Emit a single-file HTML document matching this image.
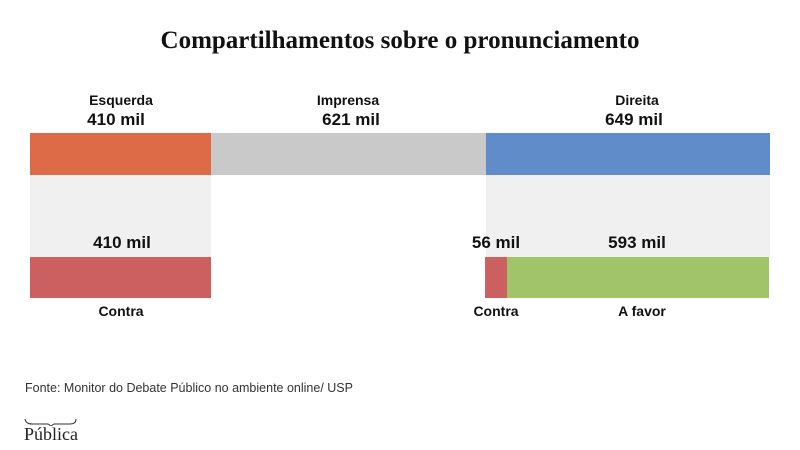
<!DOCTYPE html>
<html><head><meta charset="utf-8"><style>
body{margin:0;width:800px;height:450px;background:#fff;position:relative;overflow:hidden;font-family:"Liberation Sans",sans-serif;color:#111}
.a{position:absolute}
.t{position:absolute;transform:translateX(-50%);white-space:nowrap;font-weight:bold}
.s{font-size:14px}.b{font-size:17px}
</style></head><body>
<div class="t" style="left:400px;top:27px;font-family:'Liberation Serif',serif;font-size:25px">Compartilhamentos sobre o pronunciamento</div>
<div class="a" style="left:30px;top:175px;width:181px;height:82px;background:#f0f0f0"></div>
<div class="a" style="left:486px;top:175px;width:284px;height:82px;background:#f0f0f0"></div>
<div class="a" style="left:30px;top:133px;width:181px;height:42px;background:#dd6b47"></div>
<div class="a" style="left:211px;top:133px;width:275px;height:42px;background:#c9c9c9"></div>
<div class="a" style="left:486px;top:133px;width:284px;height:42px;background:#608dc9"></div>
<div class="a" style="left:30px;top:257px;width:181px;height:41px;background:#cc5f5f"></div>
<div class="a" style="left:485px;top:257px;width:22px;height:41px;background:#cc5f5f"></div>
<div class="a" style="left:507px;top:257px;width:262px;height:41px;background:#a1c46a"></div>
<div class="t s" style="left:121px;top:92px">Esquerda</div>
<div class="t b" style="left:116px;top:110px">410 mil</div>
<div class="t s" style="left:348px;top:92px">Imprensa</div>
<div class="t b" style="left:351px;top:110px">621 mil</div>
<div class="t s" style="left:637px;top:92px">Direita</div>
<div class="t b" style="left:634px;top:110px">649 mil</div>
<div class="t b" style="left:122px;top:233px">410 mil</div>
<div class="t b" style="left:496px;top:233px">56 mil</div>
<div class="t b" style="left:637px;top:233px">593 mil</div>
<div class="t s" style="left:121px;top:303px">Contra</div>
<div class="t s" style="left:496px;top:303px">Contra</div>
<div class="t s" style="left:642px;top:303px">A favor</div>
<div class="a" style="left:25px;top:381px;font-size:12.5px;color:#333">Fonte: Monitor do Debate Público no ambiente online/ USP</div>
<svg class="a" style="left:24px;top:418px" width="54" height="8"><path d="M1 1 Q2 6 8 6 L24 6 L27 8 L30 6 L46 6 Q52 6 52 1" fill="none" stroke="#333" stroke-width="1"/></svg>
<div class="a" style="left:24px;top:424px;font-family:'Liberation Serif',serif;font-size:18px;color:#222">Pública</div>
</body></html>
